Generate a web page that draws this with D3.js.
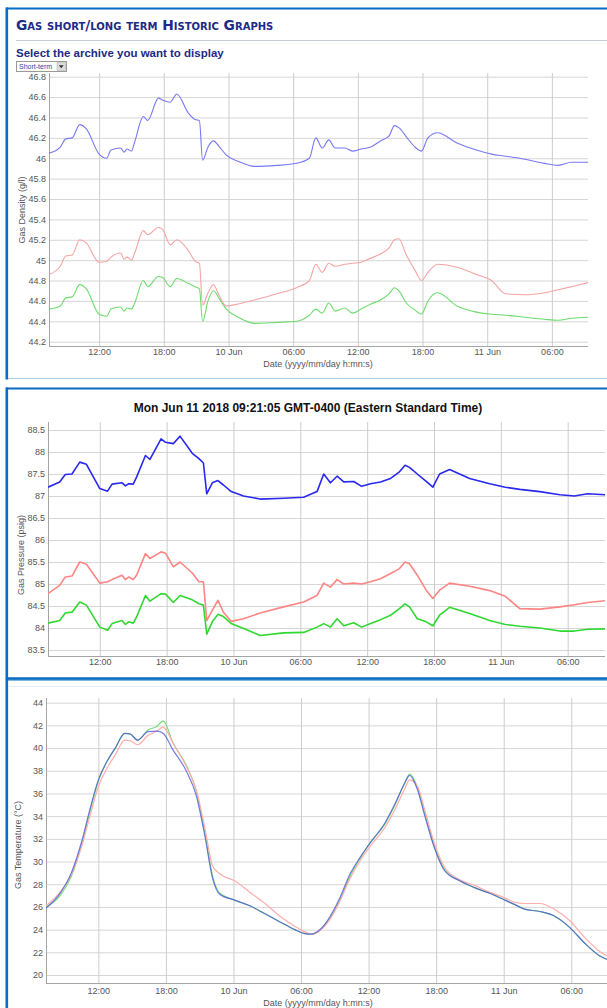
<!DOCTYPE html>
<html>
<head>
<meta charset="utf-8">
<script src="https://cdn.jsdelivr.net/npm/d3@7"></script>
<style>
  body { margin: 0; background: #fff; }
  svg text { font-family: "Liberation Sans", Arial, sans-serif; }
</style>
</head>
<body>
<div id="chart"></div>
<script>
// hours since Jun 9 2018 00:00 (shared by density + pressure)
const hours = [7.35, 8.4, 8.9, 9.5, 10.2, 10.8, 12.0, 12.7, 13.1, 14.0,
  14.3, 14.6, 15.0, 15.3, 16.1, 16.5, 17.5, 17.9, 18.6, 19.2,
  20.3, 20.9, 21.3, 21.6, 22.1, 22.6, 23.1, 23.8, 24.9, 26.4,
  28.5, 30.3, 31.5, 32.1, 32.7, 33.3, 33.9, 34.8, 35.5, 36.3,
  37.2, 38.1, 38.9, 39.4, 39.8, 40.5, 41.3, 41.9, 42.5, 43.4,
  45.2, 47.0, 48.4, 49.7, 51.5, 53.3, 54.6, 55.8, 57.35];

const densityBlue = [46.05, 46.11, 46.19, 46.2, 46.33, 46.29, 46.04, 46.0, 46.08, 46.1,
  46.06, 46.09, 46.07, 46.16, 46.41, 46.37, 46.59, 46.57, 46.55, 46.63,
  46.44, 46.38, 46.37, 45.98, 46.11, 46.17, 46.12, 46.03, 45.97, 45.92,
  45.93, 45.95, 46.0, 46.2, 46.1, 46.18, 46.1, 46.1, 46.07, 46.09,
  46.11, 46.17, 46.22, 46.32, 46.3, 46.21, 46.11, 46.07, 46.2, 46.25,
  46.15, 46.08, 46.04, 46.02, 45.99, 45.95, 45.93, 45.96, 45.96];
const densityRed = [44.86, 44.94, 45.04, 45.05, 45.2, 45.17, 44.98, 44.99, 45.03, 45.07,
  45.01, 45.03, 45.0, 45.07, 45.29, 45.25, 45.32, 45.3, 45.15, 45.2,
  45.09, 44.99, 44.97, 44.56, 44.68, 44.76, 44.66, 44.55, 44.57, 44.61,
  44.67, 44.73, 44.8, 44.96, 44.88, 44.97, 44.94, 44.96, 44.97, 44.98,
  45.02, 45.06, 45.12, 45.2, 45.21, 45.05, 44.9, 44.8, 44.88, 44.96,
  44.93, 44.86, 44.8, 44.67, 44.66, 44.68, 44.71, 44.74, 44.78];
const densityGreen = [44.52, 44.55, 44.63, 44.64, 44.76, 44.72, 44.47, 44.45, 44.52, 44.54,
  44.5, 44.53, 44.52, 44.58, 44.8, 44.74, 44.84, 44.83, 44.74, 44.82,
  44.77, 44.74, 44.72, 44.4, 44.6, 44.7, 44.63, 44.52, 44.44, 44.38,
  44.39, 44.4, 44.46, 44.52, 44.48, 44.58, 44.5, 44.53, 44.48, 44.52,
  44.57, 44.61, 44.67, 44.73, 44.7, 44.58, 44.51, 44.47, 44.6, 44.68,
  44.55, 44.49, 44.47, 44.46, 44.44, 44.42, 44.41, 44.43, 44.44];

const pressureBlue = [87.2, 87.32, 87.49, 87.5, 87.77, 87.72, 87.17, 87.11, 87.27, 87.3,
  87.23, 87.28, 87.27, 87.43, 87.92, 87.83, 88.3, 88.22, 88.19, 88.36,
  87.97, 87.85, 87.75, 87.05, 87.3, 87.35, 87.25, 87.1, 87.0, 86.93,
  86.95, 86.97, 87.1, 87.5, 87.3, 87.45, 87.32, 87.33, 87.22, 87.28,
  87.32, 87.4, 87.55, 87.7, 87.65, 87.5, 87.33, 87.2, 87.5, 87.6,
  87.4, 87.28, 87.2, 87.15, 87.1, 87.03, 87.0, 87.05, 87.03];
const pressureRed = [84.78, 84.97, 85.16, 85.18, 85.5, 85.45, 85.02, 85.05, 85.1, 85.2,
  85.1, 85.16, 85.1, 85.2, 85.69, 85.58, 85.73, 85.7, 85.39, 85.5,
  85.25, 85.05, 85.05, 84.17, 84.4, 84.63, 84.36, 84.15, 84.21, 84.34,
  84.48, 84.59, 84.74, 85.02, 84.93, 85.1, 85.0, 85.02, 85.0, 85.05,
  85.12, 85.24, 85.35, 85.5, 85.46, 85.2, 84.86, 84.67, 84.86, 85.02,
  84.95, 84.85, 84.72, 84.44, 84.43, 84.48, 84.53, 84.58, 84.62];
const pressureGreen = [84.11, 84.17, 84.34, 84.36, 84.59, 84.52, 84.02, 83.95, 84.1, 84.17,
  84.08, 84.14, 84.11, 84.25, 84.74, 84.61, 84.78, 84.77, 84.58, 84.74,
  84.64, 84.55, 84.52, 83.86, 84.14, 84.31, 84.26, 84.1, 83.99, 83.83,
  83.89, 83.9, 84.02, 84.1, 84.02, 84.21, 84.05, 84.12, 84.02, 84.1,
  84.19, 84.29, 84.44, 84.55, 84.48, 84.21, 84.14, 84.05, 84.29, 84.47,
  84.33, 84.17, 84.08, 84.04, 84.0, 83.93, 83.93, 83.97, 83.98];

// temperature has its own sampling
const tempHours = [7.35, 8.6, 9.6, 10.5, 11.25, 12.0, 12.75, 13.5, 14.35, 14.8,
  15.5, 16.4, 17.2, 17.75, 18.65, 19.8, 20.7, 21.45, 22.15, 22.8,
  24.1, 25.45, 26.8, 28.1, 29.45, 30.35, 30.95, 31.5, 32.35, 33.45,
  34.3, 35.2, 36.1, 37.45, 38.3, 39.2, 39.65, 40.35, 41.0, 41.85,
  42.75, 44.1, 45.4, 46.75, 48.1, 49.0, 49.85, 51.2, 52.5, 53.85,
  55.2, 56.5, 57.35];
const tempBlue = [25.9, 27.2, 29.0, 31.7, 34.6, 37.2, 38.8, 40.0, 41.3, 41.25,
  40.7, 41.45, 41.5, 41.3, 39.8, 38.0, 35.8, 32.3, 28.5, 27.1,
  26.6, 26.1, 25.4, 24.7, 24.0, 23.65, 23.6, 23.85, 24.8, 26.8,
  28.8, 30.3, 31.6, 33.4, 35.0, 36.9, 37.6, 36.3, 34.0, 31.2,
  29.2, 28.3, 27.7, 27.2, 26.6, 26.2, 25.8, 25.6, 25.2, 24.2,
  22.8, 21.7, 21.3];
const tempRed = [26.1, 27.3, 28.9, 31.3, 34.0, 36.6, 38.2, 39.4, 40.7, 40.65,
  40.3, 41.1, 41.5, 41.85, 40.4, 38.4, 36.3, 33.0, 29.6, 28.9,
  28.3, 27.3, 26.3, 25.2, 24.3, 23.8, 23.6, 23.8, 24.6, 26.5,
  28.4, 30.0, 31.3, 33.0, 34.5, 36.4, 37.2, 36.6, 34.5, 31.6,
  29.5, 28.4, 27.9, 27.3, 26.8, 26.4, 26.3, 26.3, 25.8, 24.8,
  23.3, 22.1, 21.6];
const tempGreen = [26.0, 27.0, 28.7, 31.4, 34.4, 37.1, 38.8, 40.0, 41.3, 41.25,
  40.7, 41.6, 41.9, 42.4, 40.4, 38.5, 36.2, 32.6, 28.7, 27.2,
  26.6, 26.1, 25.4, 24.7, 24.0, 23.65, 23.6, 23.8, 24.7, 26.6,
  28.6, 30.2, 31.6, 33.3, 34.9, 36.9, 37.7, 36.5, 34.2, 31.3,
  29.3, 28.3, 27.7, 27.2, 26.6, 26.2, 25.8, 25.6, 25.2, 24.2,
  22.8, 21.7, 21.3];

const densityTicks = d3.range(0, 14).map(i => 44.2 + i * 0.2);
const pressureTicks = d3.range(0, 11).map(i => 83.5 + i * 0.5);
const tempTicks = d3.range(20, 45, 2);

const W = 607, H = 1008;
const toDate = h => new Date(2018, 5, 9, 0, 0, 0, Math.round(h * 3600000));
const tStart = toDate(7.35), tEnd = toDate(57.35);
const timeTicks = d3.range(12, 57, 6).map(toDate);
const fmtTime = d => d.getHours() === 0 ? d3.timeFormat("%d %b")(d) : d3.timeFormat("%H:%M")(d);
const fmtNum = d => String(+d.toFixed(1));

const svg = d3.select("#chart").append("svg")
  .attr("width", W)
  .attr("height", H);

// panel frames
const blue = "#0b6cc4";
function frame(top, bottom, topStyle, bottomStyle) {
  svg.append("line").attr("x1", 6).attr("x2", W).attr("y1", top).attr("y2", top)
    .attr("stroke", topStyle[0]).attr("stroke-width", topStyle[1]);
  svg.append("line").attr("x1", 6).attr("x2", W).attr("y1", bottom).attr("y2", bottom)
    .attr("stroke", bottomStyle[0]).attr("stroke-width", bottomStyle[1]);
  svg.append("line").attr("x1", 6.8).attr("x2", 6.8).attr("y1", top - 1).attr("y2", bottom + 1)
    .attr("stroke", blue).attr("stroke-width", 2.6);
}
frame(8.5, 378.5, [blue, 2], ["#a9cbea", 1]);
frame(388.5, 678.5, [blue, 1.8], [blue, 2.6]);
frame(680, 1012, [blue, 1], ["#fff", 0]);
svg.append("line").attr("x1", 8).attr("x2", W).attr("y1", 686.5).attr("y2", 686.5)
  .attr("stroke", "#e2edf7").attr("stroke-width", 1);

// header
svg.append("text")
  .attr("x", 16).attr("y", 30)
  .attr("fill", "#1d2a86")
  .style("font-family", "'DejaVu Sans', Verdana, sans-serif")
  .style("font-size", "13.8px")
  .style("font-weight", "bold")
  .style("font-variant", "small-caps")
  .text("Gas short/long term Historic Graphs");
svg.append("line").attr("x1", 16).attr("x2", W).attr("y1", 40.5).attr("y2", 40.5)
  .attr("stroke", "#c5ccd6");
svg.append("text")
  .attr("x", 16).attr("y", 57)
  .attr("fill", "#1d2a86")
  .style("font-size", "11.5px")
  .style("font-weight", "bold")
  .text("Select the archive you want to display");

const sel = svg.append("g").attr("transform", "translate(16,61)");
sel.append("rect").attr("x", 0.5).attr("y", 0.5).attr("width", 50).attr("height", 10)
  .attr("fill", "#fff").attr("stroke", "#9a9a9a");
sel.append("text").attr("x", 3).attr("y", 8).attr("fill", "#2a45b0")
  .style("font-size", "7px").text("Short-term");
sel.append("rect").attr("x", 41).attr("y", 1.5).attr("width", 8.5).attr("height", 8)
  .attr("fill", "#dcdcdc").attr("stroke", "#aaa").attr("stroke-width", 0.5);
sel.append("path").attr("d", "M42.8,4.3 L47.7,4.3 L45.25,7.3 Z").attr("fill", "#333");

// chart title for pressure panel
svg.append("text")
  .attr("x", 308).attr("y", 412)
  .attr("text-anchor", "middle")
  .style("font-size", "12px")
  .style("font-weight", "bold")
  .attr("fill", "#111")
  .text("Mon Jun 11 2018 09:21:05 GMT-0400 (Eastern Standard Time)");

const charts = [
  {
    id: "density", times: hours, left: 49, right: 588, top: 73, bottom: 346,
    yDomain: [44.2, 46.8], yRange: [341.7, 76.7], yTicks: densityTicks,
    label: "Gas Density (g/l)", labelX: 25, labelY: 210, xTitleY: 367, tickPad: 3,
    curve: d3.curveMonotoneX, width: 1.1,
    series: [
      { values: densityGreen, color: "#6ddb6d" },
      { values: densityRed, color: "#f6a3a3" },
      { values: densityBlue, color: "#7878f2" }
    ]
  },
  {
    id: "pressure", times: hours, left: 48, right: 605, top: 422, bottom: 656,
    yDomain: [83.5, 88.5], yRange: [650, 430], yTicks: pressureTicks,
    label: "Gas Pressure (psig)", labelX: 23.5, labelY: 555, xTitleY: null, tickPad: 3,
    curve: d3.curveLinear, width: 1.6,
    series: [
      { values: pressureGreen, color: "#2fd82f" },
      { values: pressureRed, color: "#ff8585" },
      { values: pressureBlue, color: "#2828f0" }
    ]
  },
  {
    id: "temperature", times: tempHours, left: 46, right: 609, top: 698, bottom: 983,
    yDomain: [20, 44], yRange: [975, 702.7], yTicks: tempTicks,
    label: "Gas Temperature (°C)", labelX: 20.5, labelY: 845, xTitleY: 1006, tickPad: 5,
    curve: d3.curveMonotoneX, width: 1.2,
    series: [
      { values: tempGreen, color: "#78dd78", opacity: 1 },
      { values: tempRed, color: "#ffadad", opacity: 1 },
      { values: tempBlue, color: "#4650dc", opacity: 0.75 }
    ]
  }
];

charts.forEach(c => {
  const x = d3.scaleTime().domain([tStart, tEnd]).range([c.left, c.right]);
  const y = d3.scaleLinear().domain(c.yDomain).range(c.yRange);
  const g = svg.append("g").attr("id", c.id);

  // horizontal grid + y labels
  const yAxis = g.append("g")
    .attr("transform", `translate(${c.left},0)`)
    .call(d3.axisLeft(y).tickValues(c.yTicks).tickFormat(fmtNum)
      .tickSize(-(c.right - c.left)).tickSizeOuter(0).tickPadding(3));
  yAxis.select(".domain").remove();
  yAxis.selectAll(".tick line").attr("stroke", "#d6d6d6");
  yAxis.selectAll(".tick text").attr("fill", "#555").style("font-size", "9px");

  // vertical grid + x labels
  const xAxis = g.append("g")
    .attr("transform", `translate(0,${c.bottom})`)
    .call(d3.axisBottom(x).tickValues(timeTicks).tickFormat(fmtTime)
      .tickSize(-(c.bottom - c.top)).tickSizeOuter(0).tickPadding(c.tickPad));
  xAxis.select(".domain").remove();
  xAxis.selectAll(".tick line").attr("stroke", "#cdcdcd");
  xAxis.selectAll(".tick text").attr("fill", "#555").style("font-size", "9px");

  // axis lines
  g.append("line").attr("x1", c.left + 0.5).attr("x2", c.left + 0.5)
    .attr("y1", c.top).attr("y2", c.bottom).attr("stroke", "#a5a5a5");
  g.append("line").attr("x1", c.left).attr("x2", c.right)
    .attr("y1", c.bottom + 0.5).attr("y2", c.bottom + 0.5).attr("stroke", "#a5a5a5");

  // series
  g.append("clipPath").attr("id", "clip-" + c.id)
    .append("rect").attr("x", c.left).attr("y", c.top)
    .attr("width", c.right - c.left).attr("height", c.bottom - c.top);
  const line = d3.line()
    .x((d, i) => x(toDate(c.times[i])))
    .y(d => y(d))
    .curve(c.curve);
  c.series.forEach(s => {
    g.append("path")
      .attr("clip-path", `url(#clip-${c.id})`)
      .attr("d", line(s.values))
      .attr("fill", "none")
      .attr("stroke", s.color)
      .attr("stroke-opacity", s.opacity || 1)
      .attr("stroke-width", c.width)
      .attr("stroke-linejoin", "round");
  });

  // axis titles
  g.append("text")
    .attr("transform", `translate(${c.labelX},${c.labelY}) rotate(-90)`)
    .attr("text-anchor", "middle")
    .attr("fill", "#555")
    .style("font-size", "9px")
    .text(c.label);
  if (c.xTitleY) {
    g.append("text")
      .attr("x", 318).attr("y", c.xTitleY)
      .attr("text-anchor", "middle")
      .attr("fill", "#555")
      .style("font-size", "9px")
      .text("Date (yyyy/mm/day h:mn:s)");
  }
});
</script>
</body>
</html>
